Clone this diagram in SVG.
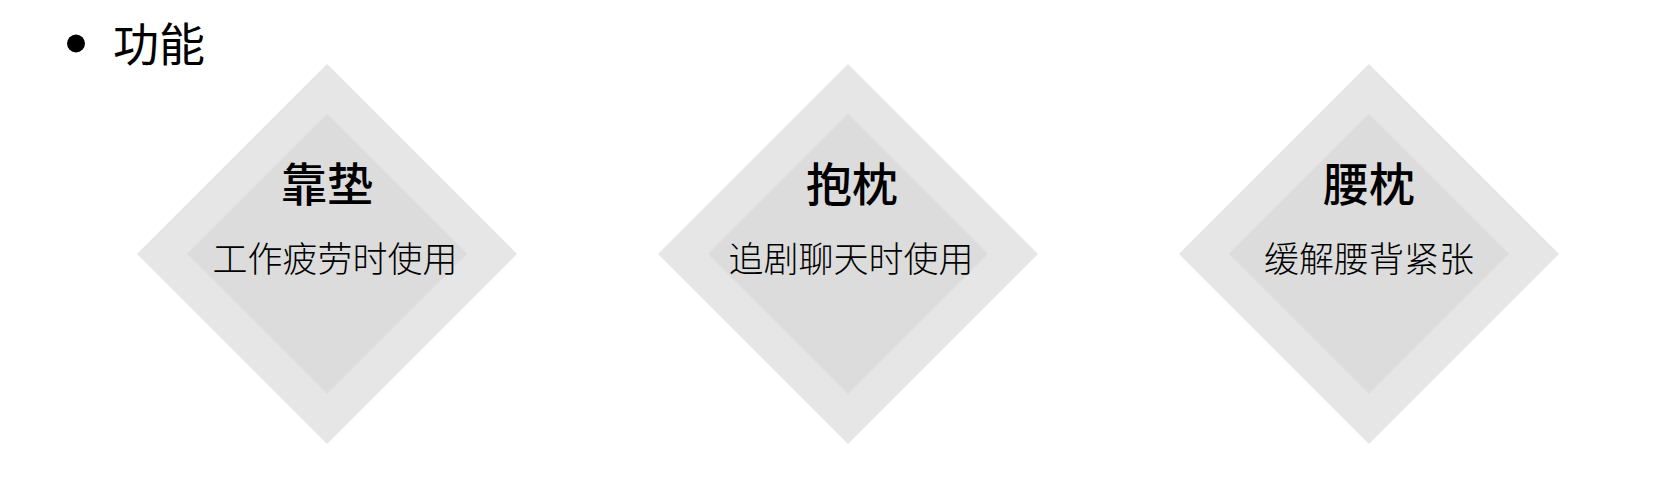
<svg xmlns="http://www.w3.org/2000/svg" width="1663" height="478" viewBox="0 0 1663 478">
  <style>
    .outer { fill: #e6e6e6; }
    .inner { fill: #dcdcdc; }
    .head { font-family: "Noto Sans CJK SC", sans-serif; font-size: 46px; fill: #000; }
    .title { font-family: "Noto Sans CJK SC", sans-serif; font-size: 46px; font-weight: 500; fill: #000; text-anchor: middle; }
    .sub { font-family: "Noto Sans CJK SC", sans-serif; font-size: 35px; font-weight: 300; fill: #000; text-anchor: middle; }
  </style>
  <defs>
    <path id="outerD" d="M0,-190 L190,0 L0,190 L-190,0 Z"/>
    <path id="innerD" d="M0,-140 L140,0 L0,140 L-140,0 Z"/>
  </defs>
  <rect width="1663" height="478" fill="#ffffff"/>
  <g id="header">
    <circle cx="76" cy="43.5" r="9" fill="#000"/>
    <text class="head" x="113" y="61">功能</text>
  </g>
  <g id="node-kaodian" transform="translate(327,254)">
    <use href="#outerD" class="outer"/>
    <use href="#innerD" class="inner"/>
    <text class="title" x="0" y="-53">靠垫</text>
    <text class="sub" x="8" y="18">工作疲劳时使用</text>
  </g>
  <g id="node-baozhen" transform="translate(848,254)">
    <use href="#outerD" class="outer"/>
    <use href="#innerD" class="inner"/>
    <text class="title" x="4" y="-53">抱枕</text>
    <text class="sub" x="3" y="18">追剧聊天时使用</text>
  </g>
  <g id="node-yaozhen" transform="translate(1369,254)">
    <use href="#outerD" class="outer"/>
    <use href="#innerD" class="inner"/>
    <text class="title" x="0" y="-53">腰枕</text>
    <text class="sub" x="0" y="18">缓解腰背紧张</text>
  </g>
  <g id="connectors"></g>
</svg>
